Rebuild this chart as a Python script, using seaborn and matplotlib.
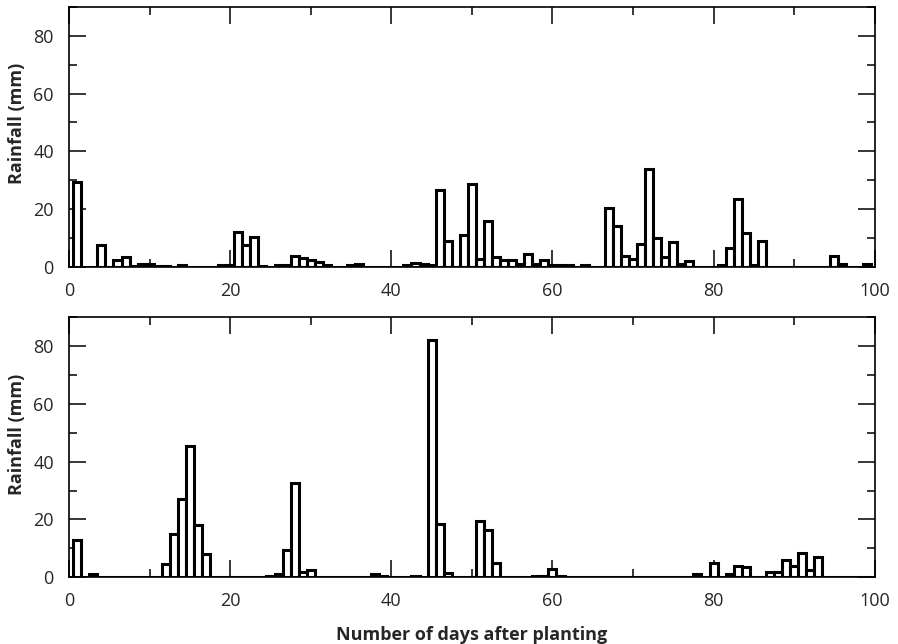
import matplotlib
matplotlib.use("Agg")
import matplotlib.pyplot as plt
import numpy as np
import pandas as pd
import seaborn as sns
from matplotlib.ticker import MultipleLocator

# daily rainfall (mm), day 0..99
days = list(range(100))
rain_top = [
    0, 29.5, 0, 0, 7.4, 0, 2.4, 3.5, 0.3, 0.9,
    1.0, 0.3, 0.3, 0, 0.6, 0, 0, 0, 0, 0.5,
    0.5, 12, 7.4, 10.3, 0.3, 0, 0.5, 0.5, 3.8, 2.9,
    2.4, 1.5, 0.7, 0, 0, 0.6, 0.9, 0, 0, 0,
    0, 0, 0.4, 1.3, 0.8, 0.5, 26.7, 8.8, 0, 11,
    28.8, 2.8, 15.7, 3.2, 2.2, 2.2, 1.0, 4.4, 1.0, 2.2,
    0.4, 0.7, 0.5, 0, 0.5, 0, 0, 20.4, 14, 3.8,
    2.6, 8, 33.7, 10, 3.3, 8.4, 0.8, 1.8, 0, 0,
    0, 0.5, 6.5, 23.6, 11.5, 0.5, 8.8, 0, 0, 0,
    0, 0, 0, 0, 0, 3.6, 1.0, 0, 0, 1.0,
]
rain_bottom = [
    0, 13, 0, 1.2, 0, 0, 0, 0, 0, 0,
    0, 0, 4.6, 15, 27, 45.5, 18, 7.9, 0, 0,
    0, 0, 0, 0, 0, 0.5, 1.2, 9.3, 32.5, 1.7,
    2.4, 0, 0, 0, 0, 0, 0, 0, 1.0, 0.5,
    0, 0, 0, 0.5, 0, 82.3, 18.3, 1.5, 0, 0,
    0, 19.5, 16.2, 4.9, 0, 0, 0, 0, 0.4, 0.4,
    2.9, 0.5, 0, 0, 0, 0, 0, 0, 0, 0,
    0, 0, 0, 0, 0, 0, 0, 0, 1.2, 0,
    4.9, 0, 1.2, 3.7, 3.4, 0, 0, 1.6, 1.6, 5.8,
    3.8, 8.5, 2.6, 7, 0, 0, 0, 0, 0, 0,
]

sns.set_style("ticks")
plt.rcParams["font.family"] = ["Open Sans", "DejaVu Sans"]

fig, axes = plt.subplots(2, 1, figsize=(8.98, 6.44), dpi=100)
fig.subplots_adjust(left=0.077, right=0.974, top=0.989, bottom=0.104, hspace=0.196)

for ax, rain in zip(axes, [rain_top, rain_bottom]):
    df = pd.DataFrame({"day": days, "rain": rain})
    sns.barplot(data=df, x="day", y="rain", native_scale=True, width=1,
                color="white", edgecolor="black", linewidth=2.2,
                saturation=1, errorbar=None, ax=ax)
    ax.set_xlim(0, 100)
    ax.set_ylim(0, 90)
    ax.xaxis.set_major_locator(MultipleLocator(20))
    ax.xaxis.set_minor_locator(MultipleLocator(10))
    ax.yaxis.set_minor_locator(MultipleLocator(10))
    ax.set_yticks([0, 20, 40, 60, 80])
    ax.tick_params(which="both", direction="in", top=True, right=True,
                   labelsize=13, pad=11, width=1.1, color="black")
    ax.tick_params(which="major", length=12)
    ax.tick_params(which="minor", length=6)
    for s in ax.spines.values():
        s.set_linewidth(1.2)
        s.set_color("black")
    ax.set_ylabel("Rainfall (mm)", fontsize=13, fontweight="bold")
    ax.yaxis.set_label_coords(-0.054, 0.55)
    ax.set_xlabel("")

axes[1].set_xlabel("Number of days after planting", fontsize=13, fontweight="bold", labelpad=11)

fig.savefig("out.png", dpi=100)
